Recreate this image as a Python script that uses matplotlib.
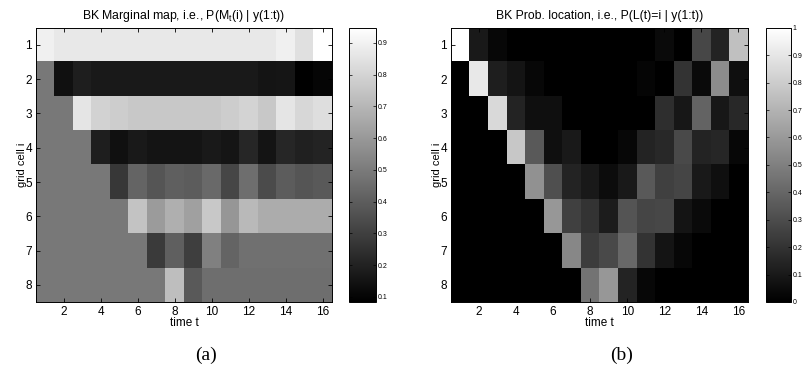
import numpy as np
import matplotlib
matplotlib.use("Agg")
import matplotlib.pyplot as plt

plt.rcParams['font.family'] = ['Liberation Sans', 'DejaVu Sans']

# (a) BK marginal map P(M_t(i) | y(1:t)), rows = grid cell 1..8, cols = time 1..16
marg_map = [
    [0.896, 0.869, 0.869, 0.869, 0.869, 0.869, 0.869, 0.869, 0.869, 0.869, 0.869, 0.869, 0.869, 0.896, 0.842, 0.947],
    [0.490, 0.138, 0.186, 0.169, 0.169, 0.169, 0.169, 0.169, 0.169, 0.169, 0.169, 0.169, 0.152, 0.158, 0.084, 0.101],
    [0.490, 0.490, 0.856, 0.795, 0.778, 0.761, 0.761, 0.761, 0.761, 0.761, 0.778, 0.801, 0.761, 0.856, 0.812, 0.835],
    [0.490, 0.490, 0.490, 0.186, 0.138, 0.169, 0.152, 0.152, 0.152, 0.169, 0.158, 0.213, 0.152, 0.213, 0.192, 0.202],
    [0.490, 0.490, 0.490, 0.490, 0.270, 0.422, 0.372, 0.405, 0.395, 0.439, 0.321, 0.456, 0.338, 0.395, 0.372, 0.389],
    [0.490, 0.490, 0.490, 0.490, 0.490, 0.744, 0.609, 0.676, 0.625, 0.761, 0.592, 0.710, 0.666, 0.666, 0.666, 0.666],
    [0.490, 0.490, 0.490, 0.490, 0.490, 0.490, 0.280, 0.405, 0.294, 0.517, 0.422, 0.463, 0.463, 0.463, 0.463, 0.463],
    [0.490, 0.490, 0.490, 0.490, 0.490, 0.490, 0.490, 0.727, 0.389, 0.456, 0.456, 0.456, 0.456, 0.456, 0.456, 0.456],
]

# (b) BK prob. location P(L(t)=i | y(1:t))
prob_loc = [
    [1.00, 0.10, 0.03, 0.00, 0.00, 0.00, 0.00, 0.00, 0.00, 0.00, 0.00, 0.04, 0.00, 0.28, 0.14, 0.75],
    [0.00, 0.91, 0.12, 0.08, 0.03, 0.00, 0.00, 0.00, 0.00, 0.00, 0.02, 0.00, 0.20, 0.04, 0.55, 0.06],
    [0.00, 0.00, 0.85, 0.14, 0.06, 0.06, 0.00, 0.00, 0.00, 0.00, 0.00, 0.18, 0.09, 0.39, 0.09, 0.16],
    [0.00, 0.00, 0.00, 0.78, 0.35, 0.06, 0.10, 0.00, 0.00, 0.03, 0.14, 0.16, 0.29, 0.14, 0.15, 0.03],
    [0.00, 0.00, 0.00, 0.00, 0.57, 0.31, 0.14, 0.10, 0.05, 0.10, 0.35, 0.25, 0.27, 0.10, 0.06, 0.00],
    [0.00, 0.00, 0.00, 0.00, 0.00, 0.59, 0.25, 0.20, 0.11, 0.33, 0.27, 0.28, 0.08, 0.04, 0.00, 0.00],
    [0.00, 0.00, 0.00, 0.00, 0.00, 0.00, 0.53, 0.24, 0.29, 0.41, 0.20, 0.08, 0.03, 0.00, 0.00, 0.00],
    [0.00, 0.00, 0.00, 0.00, 0.00, 0.00, 0.00, 0.45, 0.59, 0.14, 0.03, 0.00, 0.00, 0.00, 0.00, 0.00],
]

titles = ["BK Marginal map, i.e., P(M$_\\mathregular{t}$(i) | y(1:t))",
          "BK Prob. location, i.e., P(L(t)=i | y(1:t))"]
panel_labels = ["(a)", "(b)"]
x_ticks = [2, 4, 6, 8, 10, 12, 14, 16]
y_ticks = [1, 2, 3, 4, 5, 6, 7, 8]

fig = plt.figure(figsize=(8.04, 3.76), dpi=100)

ax_pos = [[0.0448, 0.197, 0.368, 0.729], [0.561, 0.197, 0.369, 0.729]]
cb_pos = [[0.434, 0.197, 0.034, 0.729], [0.953, 0.197, 0.031, 0.729]]
cb_ticks = [[0.1, 0.2, 0.3, 0.4, 0.5, 0.6, 0.7, 0.8, 0.9],
            [0, 0.1, 0.2, 0.3, 0.4, 0.5, 0.6, 0.7, 0.8, 0.9, 1]]
cb_labels = [["0.1", "0.2", "0.3", "0.4", "0.5", "0.6", "0.7", "0.8", "0.9"],
             ["0", "0.1", "0.2", "0.3", "0.4", "0.5", "0.6", "0.7", "0.8", "0.9", "1"]]

for k, data in enumerate([marg_map, prob_loc]):
    arr = np.array(data)
    ax = fig.add_axes(ax_pos[k])
    im = ax.imshow(arr, cmap='gray', aspect='auto', interpolation='nearest',
                   extent=[0.5, 16.5, 8.5, 0.5], vmin=arr.min(), vmax=arr.max())
    ax.set_xticks(x_ticks)
    ax.set_yticks(y_ticks)
    ax.tick_params(direction='in', top=True, right=True, labelsize=8.5,
                   length=3, width=0.6, pad=3)
    ax.set_xlabel("time t", fontsize=8.5, labelpad=-1)
    ax.set_ylabel("grid cell i", fontsize=8, labelpad=-1)
    ax.set_title(titles[k], fontsize=8.8, pad=6)
    for s in ax.spines.values():
        s.set_linewidth(0.7)

    cax = fig.add_axes(cb_pos[k])
    cb = fig.colorbar(im, cax=cax)
    cb.set_ticks(cb_ticks[k])
    cb.set_ticklabels(cb_labels[k])
    cax.tick_params(direction='in', left=True, right=True, labelsize=5,
                    length=2, width=0.5, pad=1)
    cb.outline.set_linewidth(0.7)

    x_mid = ax_pos[k][0] + ax_pos[k][2] / 2 + 0.027
    fig.text(x_mid, 0.055, panel_labels[k], ha='center', va='center',
             fontsize=14, family=['Liberation Serif', 'DejaVu Serif'])

fig.savefig("out.png", dpi=100)
